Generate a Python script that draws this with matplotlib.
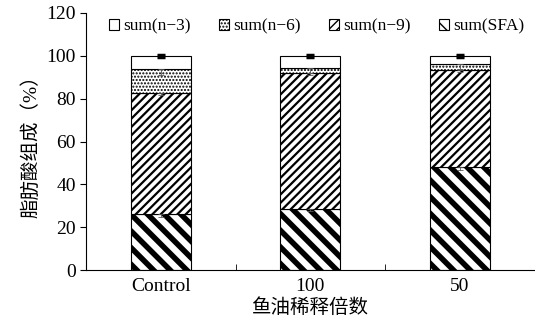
import numpy as np
import matplotlib
matplotlib.use('Agg')
import matplotlib.pyplot as plt

plt.rcParams['font.family'] = ['Liberation Serif', 'Noto Sans CJK SC']
plt.rcParams['font.size'] = 14

groups = ['Control', '100', '50']
sfa = [26.0, 28.5, 48.0]
n9 = [56.5, 63.5, 45.5]
n6 = [11.5, 2.5, 2.5]
n3 = [6.0, 5.5, 4.0]
sfa_err = [1.0, 1.0, 1.5]
n9_err = [1.0, 1.0, 1.0]
n6_err = [3.0, 2.5, 2.0]
n3_err = [0.5, 0.5, 0.5]

labels = ['sum(n−3)', 'sum(n−6)', 'sum(n−9)', 'sum(SFA)']

fig = plt.figure(figsize=(5.35, 3.31), dpi=100)
ax = fig.add_axes([0.161, 0.184, 0.838, 0.777])

x = np.arange(len(groups))
w = 0.4
b1 = np.array(sfa)
b2 = b1 + np.array(n9)
b3 = b2 + np.array(n6)

def bars(vals, bottom, hatch, lw, label):
    plt.rcParams['hatch.linewidth'] = lw
    bs = ax.bar(x, vals, w, bottom=bottom, color='white', edgecolor='black',
                hatch=hatch, linewidth=0.8, label=label)
    for p in bs:
        if hasattr(p, 'set_hatch_linewidth'):
            p.set_hatch_linewidth(lw)
    return bs

h1 = bars(sfa, 0, '\\\\', 4.0, labels[3])
h2 = bars(n9, b1, '////', 1.6, labels[2])
h3 = bars(n6, b2, '.....', 1.0, labels[1])
h4 = bars(n3, b3, '', 1.0, labels[0])

tops = b3 + np.array(n3)
ax.errorbar(x, tops, yerr=[n3_err, [0.3] * 3], fmt='none', ecolor='black',
            elinewidth=0.8, capsize=3, capthick=2.5, zorder=5)
for top, err in [(b1, sfa_err), (b2, n9_err), (b3, n6_err)]:
    ax.errorbar(x, top, yerr=[err, [0.0] * 3], fmt='none', ecolor='0.35',
                elinewidth=0.6, capsize=2, capthick=0.6, zorder=5)

ax.set_xlim(-0.5, 2.5)
ax.set_ylim(0, 120)
ax.set_yticks(range(0, 121, 20))
ax.set_xticks(x)
ax.set_xticklabels(groups)
ax.set_xticks([0.5, 1.5], minor=True)
ax.tick_params(axis='x', which='major', length=0, pad=6)
ax.tick_params(axis='x', which='minor', direction='in', length=4)
ax.tick_params(axis='y', direction='out', length=4, width=0.8)
ax.spines['top'].set_visible(False)
ax.spines['right'].set_visible(False)
ax.set_ylabel('脂肪酸组成（%）', fontsize=14)
ax.set_xlabel('鱼油稀释倍数', fontsize=14, labelpad=2)

ax.legend([h4, h3, h2, h1], labels, ncol=4, loc='upper left',
          bbox_to_anchor=(0.035, 1.005), frameon=False, fontsize=12.5,
          handlelength=0.6, handleheight=0.6, handletextpad=0.25,
          columnspacing=1.6, borderaxespad=0)

fig.savefig('out.png', dpi=100)
